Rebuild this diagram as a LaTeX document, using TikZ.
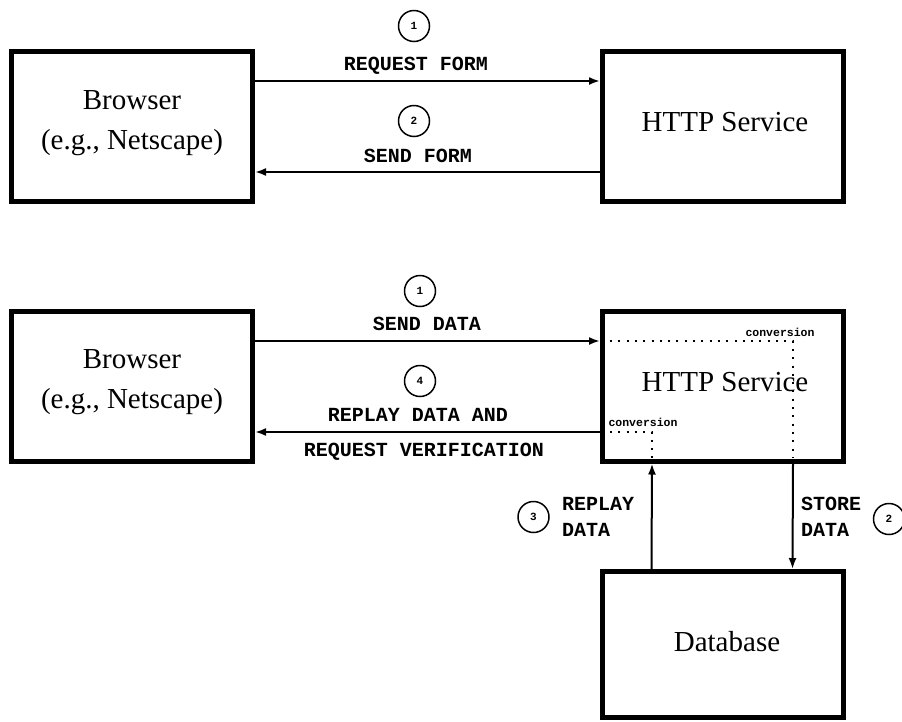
\documentclass[tikz,border=0pt]{standalone}
\usepackage{fontspec}
\newfontfamily\labelfont{Liberation Mono}
\newfontfamily\boxfont{Liberation Serif}
\usetikzlibrary{arrows.meta}
\begin{document}
\begin{tikzpicture}[x=1pt,y=-1pt,
  box/.style={draw,line width=5pt,minimum width=241pt,minimum height=150pt,inner sep=0pt},
  boxtext/.style={font=\boxfont\fontsize{29}{40}\selectfont,align=center,inner sep=0pt},
  lbl/.style={font=\labelfont\bfseries\fontsize{20}{26}\selectfont,inner sep=0pt},
  conv/.style={font=\labelfont\bfseries\fontsize{11.5}{12}\selectfont,inner sep=0pt},
  numc/.style={draw,circle,line width=1.5pt,minimum size=31pt,inner sep=0pt,font=\labelfont\bfseries\fontsize{11}{11}\selectfont},
  arr/.style={line width=2pt,-{Latex[length=11pt,width=8pt]}},
  dots/.style={line width=2pt,dash pattern=on 2pt off 6.3pt}]
\useasboundingbox (0,0) rectangle (902,721);
\fill[white] (0,0) rectangle (902,721);
% boxes
\node[box] (b1) at (132,126.5) {};
\node[box] (h1) at (723,126.5) {};
\node[box] (b2) at (132,386) {};
\node[box] (h2) at (723,386) {};
\node[box,minimum height=146pt] (db) at (722.5,644.5) {};
% box texts
\node[boxtext] (b1t) at (132,123) {Browser\\(e.g., Netscape)};
\node[boxtext] (h1t) at (725,122) {HTTP Service};
\node[boxtext] (b2t) at (132,382) {Browser\\(e.g., Netscape)};
\node[boxtext] (h2t) at (725,382) {HTTP Service};
\node[boxtext] (dbt) at (727,642) {Database};
% top connectors
\draw[arr] ([yshift=45.5pt]b1.east) -- ([yshift=45.5pt]h1.west);
\draw[arr] ([yshift=-45.5pt]h1.west) -- ([yshift=-45.5pt]b1.east);
\node[numc] (n1a) at (414,26) {1};
\node[lbl] (l1a) at (416,66) {REQUEST FORM};
\node[numc] (n2a) at (414,121) {2};
\node[lbl] (l2a) at (418,156) {SEND FORM};
% bottom connectors
\draw[arr] ([yshift=45pt]b2.east) -- ([yshift=45pt]h2.west);
\draw[arr] ([yshift=-46pt]h2.west) -- ([yshift=-46pt]b2.east);
\node[numc] (n1b) at (420,291) {1};
\node[lbl] (l1b) at (427,324) {SEND DATA};
\node[numc] (n4b) at (420,381) {4};
\node[lbl] (l4b) at (418,415) {REPLAY DATA AND};
\node[lbl] (l4c) at (424,452) {REQUEST VERIFICATION};
% vertical connectors
\draw[arr] ([xshift=-71pt]db.north) -- ([xshift=-71pt]h2.south);
\draw[arr] ([xshift=70pt]h2.south) -- ([xshift=70pt]db.north);
\node[numc] (n3) at (533.5,517) {3};
\node[lbl,align=left,anchor=west] (l3) at (562,517) {REPLAY\\DATA};
\node[lbl,align=left,anchor=west] (l2) at (801,517) {STORE\\DATA};
\node[numc] (n2b) at (889,519) {2};
% conversions
\coordinate (ca) at (610,341);
\coordinate (cb) at (793,341);
\coordinate (cc) at (793,458);
\coordinate (cd) at (610,432);
\coordinate (ce) at (652,432);
\coordinate (cf) at (652,458);
\draw[dots] (ca) -- (cb) -- (cc);
\draw[dots] (cd) -- (ce) -- (cf);
\node[conv] (cv1) at (780,332) {conversion};
\node[conv] (cv2) at (643,422) {conversion};
\end{tikzpicture}
\end{document}
